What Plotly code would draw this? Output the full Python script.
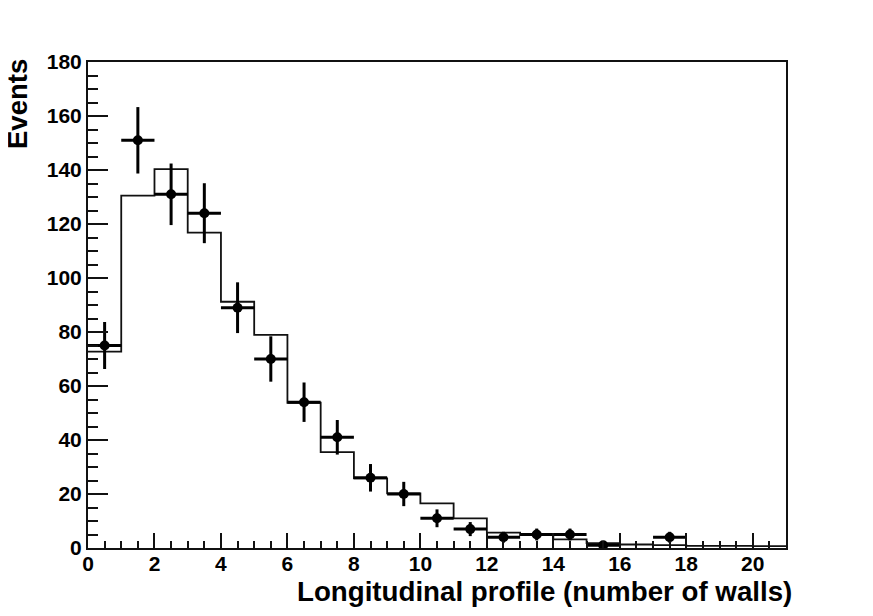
import plotly.graph_objects as go

# Simulation histogram (bin edges and contents)
bin_edges = [0, 1, 2, 3, 4, 5, 6, 7, 8, 9, 10, 11, 12, 13, 14, 15, 16, 17, 18, 19, 20, 21]
mc_counts = [72.7, 130.5, 140.3, 116.8, 91.2, 78.9, 53.8, 35.5, 25.8, 20.2,
             16.5, 11.0, 5.7, 4.8, 3.2, 1.8, 1.3, 1.1, 0.8, 0.8, 0.7]

# Data points
data_x = [0.5, 1.5, 2.5, 3.5, 4.5, 5.5, 6.5, 7.5, 8.5, 9.5, 10.5, 11.5, 12.5, 13.5, 14.5, 15.5, 17.5]
data_y = [75, 151, 131, 124, 89, 70, 54, 41, 26, 20, 11, 7, 4, 5, 5, 1, 4]
data_err = [8.7, 12.3, 11.4, 11.1, 9.4, 8.4, 7.3, 6.4, 5.1, 4.5, 3.3, 2.6, 2.0, 2.2, 2.2, 1.0, 2.0]
data_halfwidth = [0.5] * len(data_x)

x_ticks = [0, 2, 4, 6, 8, 10, 12, 14, 16, 18, 20]
y_ticks = [0, 20, 40, 60, 80, 100, 120, 140, 160, 180]

FONT = "Liberation Sans"

fig = go.Figure()

fig.add_trace(go.Scatter(
    x=bin_edges,
    y=mc_counts + [mc_counts[-1]],
    mode="lines",
    line=dict(shape="hv", color="#111111", width=1.8),
    hoverinfo="skip",
    showlegend=False,
))

fig.add_trace(go.Scatter(
    x=data_x, y=data_y,
    mode="markers",
    marker=dict(color="black", size=10, symbol="circle"),
    error_y=dict(type="data", array=data_err, visible=True, color="black", thickness=3, width=0),
    error_x=dict(type="data", array=data_halfwidth, visible=True, color="black", thickness=3, width=0),
    showlegend=False,
))

axis_common = dict(
    showgrid=False, zeroline=False, showline=True, linecolor="#111111", linewidth=2,
    mirror=True, ticks="inside", tickcolor="#111111", tickwidth=2,
    tickfont=dict(family=FONT, size=21, color="black", weight="bold"),
)

fig.update_xaxes(
    range=[0, 21], tickvals=x_ticks, ticktext=[str(v) for v in x_ticks], ticklen=15,
    ticklabelstandoff=-4,
    minor=dict(dtick=0.5, tick0=0, ticks="inside", ticklen=7, tickcolor="#111111", tickwidth=2),
    **axis_common,
)
fig.update_yaxes(
    range=[0, 180], tickvals=y_ticks, ticktext=[str(v) for v in y_ticks], ticklen=20,
    minor=dict(dtick=5, tick0=0, ticks="inside", ticklen=10, tickcolor="#111111", tickwidth=2),
    **axis_common,
)

# page body has an 8px margin, so the figure is sized/offset to compensate
OFF = 8
W, H = 865, 608
ml, mr, mt, mb = 80, 87, 54, 68
pw, ph = W - ml - mr, H - mt - mb
bottom_px = H - mb

fig.add_annotation(
    text="Longitudinal profile (number of walls)",
    xref="paper", yref="paper",
    x=(794 - OFF - ml) / pw, y=-((591 - OFF) - bottom_px) / ph,
    xanchor="right", yanchor="middle", showarrow=False,
    font=dict(family=FONT, size=27.7, color="black", weight="bold"),
)
fig.add_annotation(
    text="Events",
    xref="paper", yref="paper",
    x=(17 - OFF - ml) / pw, y=(bottom_px - (57 - OFF)) / ph,
    xanchor="center", yanchor="top", textangle=-90, showarrow=False,
    font=dict(family=FONT, size=27.5, color="black", weight="bold"),
)

fig.update_layout(
    width=W, height=H,
    margin=dict(l=ml, r=mr, t=mt, b=mb),
    paper_bgcolor="white", plot_bgcolor="white",
    showlegend=False,
)

fig.write_html("out.html")
